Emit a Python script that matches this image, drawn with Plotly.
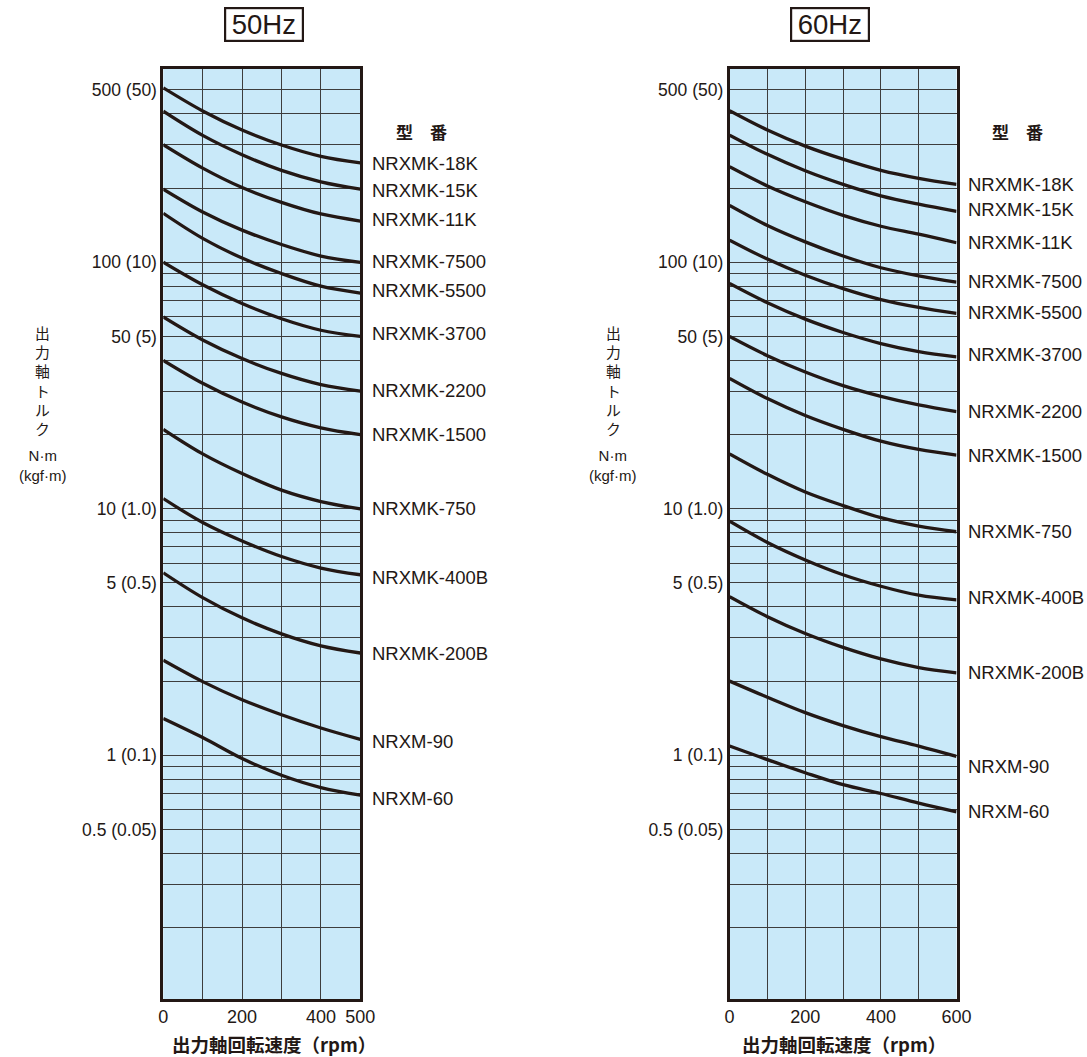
import math
import plotly.graph_objects as go

# ---------------- data ----------------
models = ["NRXMK-18K", "NRXMK-15K", "NRXMK-11K", "NRXMK-7500", "NRXMK-5500",
          "NRXMK-3700", "NRXMK-2200", "NRXMK-1500", "NRXMK-750", "NRXMK-400B",
          "NRXMK-200B", "NRXM-90", "NRXM-60"]

speed_50 = [0, 100, 200, 300, 400, 500]
torque_50 = [
    [510, 411, 344, 299, 269, 253],
    [410, 327, 273, 236, 212, 198],
    [300, 241, 201, 175, 157, 147],
    [198, 160, 135, 118, 106, 100],
    [158, 125, 104, 90, 80, 75],
    [100, 81, 68, 59, 53, 50],
    [60, 48.4, 40.7, 35.4, 31.9, 30],
    [40, 32.3, 27.1, 23.6, 21.3, 20],
    [21, 16.7, 13.9, 11.9, 10.7, 10],
    [11, 8.8, 7.4, 6.4, 5.75, 5.4],
    [5.5, 4.36, 3.61, 3.11, 2.78, 2.6],
    [2.43, 1.99, 1.68, 1.46, 1.29, 1.16],
    [1.41, 1.18, 0.97, 0.83, 0.74, 0.69],
]
label_y_50 = [252, 195, 148.5, 100.6, 76.7, 51.5, 30.3, 20.1, 10, 5.24, 2.6, 1.14, 0.671]

speed_60 = [0, 100, 200, 300, 400, 500, 600]
torque_60 = [
    [412, 344, 296, 262, 236, 219, 207],
    [328, 274, 235, 207, 186, 172, 161],
    [244, 204, 176, 155, 140, 130, 120],
    [170, 141, 121, 106, 95, 88, 83],
    [123, 103, 88.6, 78.2, 70.6, 65.6, 62],
    [82, 68.5, 58.8, 51.9, 46.8, 43.4, 41.3],
    [50, 41.8, 35.9, 31.6, 28.6, 26.4, 24.8],
    [33.8, 28.0, 23.9, 21.0, 18.8, 17.4, 16.5],
    [16.7, 13.8, 11.7, 10.3, 9.2, 8.5, 8.07],
    [8.9, 7.3, 6.2, 5.4, 4.85, 4.46, 4.27],
    [4.4, 3.65, 3.12, 2.74, 2.46, 2.27, 2.16],
    [2.0, 1.72, 1.49, 1.32, 1.19, 1.09, 0.99],
    [1.09, 0.96, 0.85, 0.76, 0.70, 0.64, 0.59],
]
label_y_60 = [206, 163, 119.8, 83.4, 62.3, 42.1, 24.8, 16.5, 8.07, 4.35, 2.16, 0.90, 0.59]

grid_vals = [0.2, 0.3, 0.4, 0.5, 0.6, 0.7, 0.8, 0.9, 1, 2, 3, 4, 5, 6, 7, 8, 9,
             10, 20, 30, 40, 50, 60, 70, 80, 90, 100, 200, 300, 400, 500]
y_tick_labels = {0.5: "0.5 (0.05)", 1: "1 (0.1)", 5: "5 (0.5)", 10: "10 (1.0)",
                 50: "50 (5)", 100: "100 (10)", 500: "500 (50)"}
x_ticks_50 = [0, 100, 200, 300, 400, 500]
x_text_50 = ["0", "", "200", "", "400", "500"]
x_ticks_60 = [0, 100, 200, 300, 400, 500, 600]
x_text_60 = ["0", "", "200", "", "400", "", "600"]

# ---------------- style ----------------
W, H = 1087, 1057
W_EFF = 1072  # horizontal reference scale observed in the rendered page
INK = "#231815"
GRID = "#3d3d3d"
BG = "#c9e9f9"
FONT = "Liberation Sans, Arial, Noto Sans CJK JP"
CJK = "Noto Sans CJK JP"

def px_x(p):
    return p / W_EFF

def px_y(p):
    return 1 - p / H

fig = go.Figure()

for curve in torque_50:
    fig.add_trace(go.Scatter(x=speed_50, y=curve, mode="lines", xaxis="x", yaxis="y",
                             line=dict(color=INK, width=3.3, shape="spline", smoothing=1.0),
                             showlegend=False, hoverinfo="skip"))
for curve in torque_60:
    fig.add_trace(go.Scatter(x=speed_60, y=curve, mode="lines", xaxis="x2", yaxis="y2",
                             line=dict(color=INK, width=3.3, shape="spline", smoothing=1.0),
                             showlegend=False, hoverinfo="skip"))

y_text = [y_tick_labels.get(v, "") for v in grid_vals]
yrange = [-0.9886, 2.784]
ydom = [px_y(999), px_y(69)]

def yaxis(anchor):
    return dict(type="log", range=yrange, domain=ydom, anchor=anchor,
                tickmode="array", tickvals=grid_vals, ticktext=y_text,
                showgrid=True, gridcolor=GRID, gridwidth=1,
                showline=True, mirror=True, linecolor=INK, linewidth=2.6,
                ticks="", zeroline=False, fixedrange=True,
                tickfont=dict(family=FONT, size=17.5, color=INK))

def xaxis(anchor, dom, rng, tv, tt):
    return dict(range=rng, domain=dom, anchor=anchor,
                tickmode="array", tickvals=tv, ticktext=tt,
                showgrid=True, gridcolor=GRID, gridwidth=1,
                showline=True, mirror=True, linecolor=INK, linewidth=2.6,
                ticks="", zeroline=False, fixedrange=True,
                tickfont=dict(family=FONT, size=18, color=INK))

annotations = []

# panel titles
for txt, cx in [("\u200950Hz\u2009", 260.5), ("\u200960Hz\u2009", 829)]:
    annotations.append(dict(text=txt, x=px_x(cx), y=px_y(25), xref="paper", yref="paper",
                            xanchor="center", yanchor="middle", showarrow=False,
                            font=dict(family=FONT, size=27.5, color=INK),
                            bordercolor=INK, borderwidth=2.2, borderpad=0, bgcolor="white"))

# model labels
for i, m in enumerate(models):
    annotations.append(dict(text=m, x=px_x(366.5), y=math.log10(label_y_50[i]),
                            xref="paper", yref="y", xanchor="left", yanchor="middle",
                            showarrow=False, font=dict(family=FONT, size=18.5, color=INK)))
    annotations.append(dict(text=m, x=px_x(965.5), y=math.log10(label_y_60[i]),
                            xref="paper", yref="y2", xanchor="left", yanchor="middle",
                            showarrow=False, font=dict(family=FONT, size=18.5, color=INK)))

# header 型番
for cx in [418, 1017]:
    annotations.append(dict(text="型　番", x=px_x(cx), y=px_y(131.5), xref="paper", yref="paper",
                            xanchor="center", yanchor="middle", showarrow=False,
                            font=dict(family=CJK, size=17, color=INK, weight="bold")))

# y-axis titles
for cx in [38, 611]:
    annotations.append(dict(text="出<br>力<br>軸<br>ト<br>ル<br>ク", x=px_x(cx), y=px_y(320.4),
                            xref="paper", yref="paper", xanchor="center", yanchor="top",
                            showarrow=False, font=dict(family=CJK, size=14.8, color=INK)))
    annotations.append(dict(text="N·m<br>(kgf·m)", x=px_x(cx), y=px_y(445.2), xref="paper",
                            yref="paper", xanchor="center", yanchor="top", showarrow=False,
                            font=dict(family=FONT, size=15, color=INK)))

# x-axis titles
for cx in [270, 842.5]:
    annotations.append(dict(text="出力軸回転速度（rpm）", x=px_x(cx), y=px_y(1044),
                            xref="paper", yref="paper", xanchor="center", yanchor="middle",
                            showarrow=False, font=dict(family=CJK, size=18.5, color=INK, weight="bold")))

fig.update_layout(
    width=W, height=H, autosize=False, margin=dict(l=0, r=0, t=0, b=0),
    paper_bgcolor="white", plot_bgcolor=BG,
    xaxis=xaxis("y", [px_x(159), px_x(357)], [0, 500], x_ticks_50, x_text_50),
    yaxis=yaxis("x"),
    xaxis2=xaxis("y2", [px_x(728), px_x(956)], [0, 600], x_ticks_60, x_text_60),
    yaxis2=yaxis("x2"),
    annotations=annotations,
    showlegend=False,
)

fig.write_html("out.html", config={"responsive": False})
